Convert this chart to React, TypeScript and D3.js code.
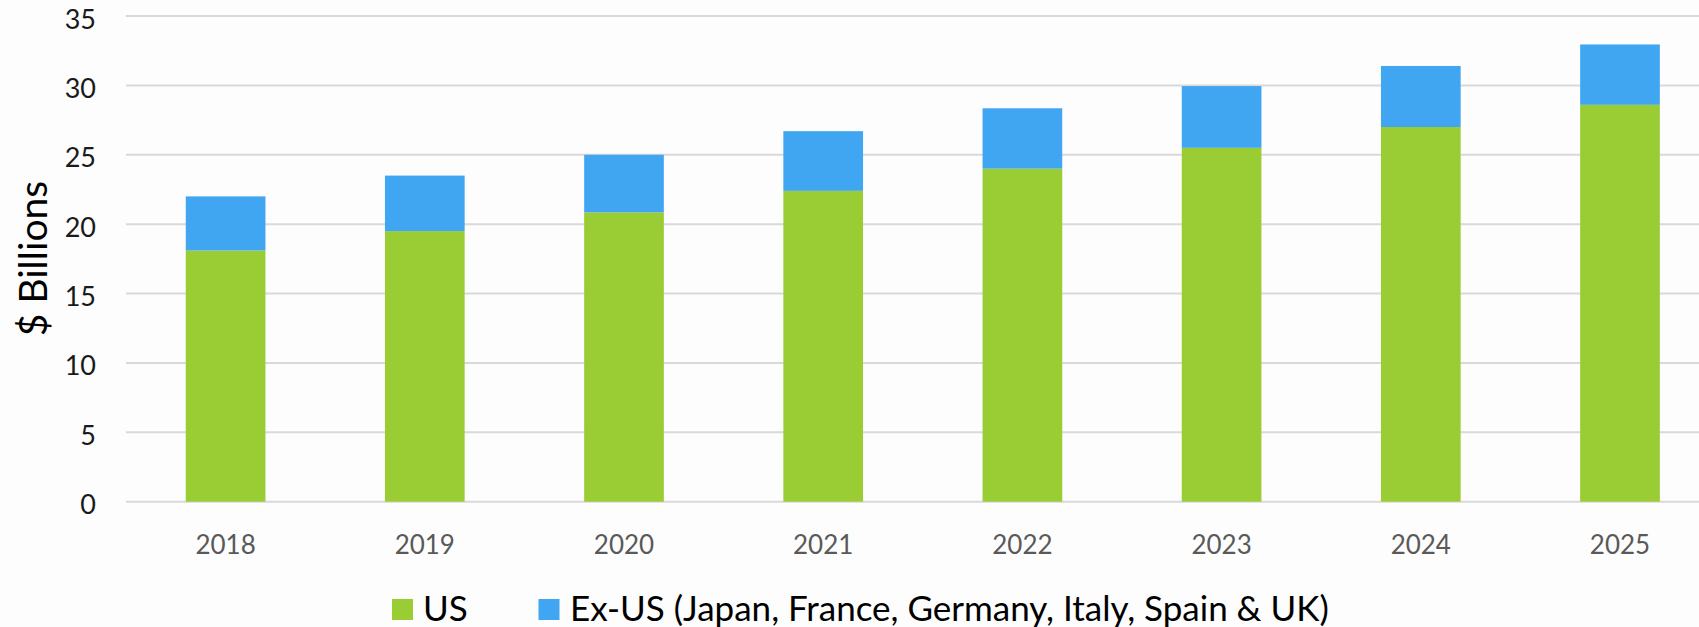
import React from 'react';
import * as d3 from 'd3';

const years = ['2018', '2019', '2020', '2021', '2022', '2023', '2024', '2025'];
const usValues = [18.1, 19.5, 20.85, 22.4, 24.0, 25.5, 27.0, 28.6];
const exUsValues = [3.9, 4.0, 4.15, 4.3, 4.35, 4.45, 4.4, 4.35];
const yTicks = [0, 5, 10, 15, 20, 25, 30, 35];
const seriesNames = ['US', 'Ex-US (Japan, France, Germany, Italy, Spain & UK)'];
const seriesColors = ['#9ACC33', '#40A6F2'];

const W = 1699;
const H = 627;
const FONT = 'Lato, "Open Sans", sans-serif';

export default function App() {
  const rows = years.map((yr, i) => ({ year: yr, us: usValues[i], exus: exUsValues[i] }));
  const stack = d3.stack<any>().keys(['us', 'exus'])(rows);

  const x = d3.scaleBand<string>().domain(years).range([126, 1719.6]).paddingInner(0.6).paddingOuter(0.3);
  const y = d3.scaleLinear().domain([0, 35]).range([501.7, 16]);

  return (
    <svg width={W} height={H} style={{ position: 'absolute', left: 0, top: 0, background: '#fdfdfd' }} fontFamily={FONT}>
      <rect x={0} y={0} width={W} height={H} fill="#fdfdfd" />
      {yTicks.map(t => (
        <g key={t}>
          <line x1={126} x2={W} y1={y(t)} y2={y(t)} stroke="#d9d9d9" strokeWidth={2} />
          <text x={96} y={y(t) + 2} textAnchor="end" dominantBaseline="central" fontSize={27} fill="#1a1a1a">{t}</text>
        </g>
      ))}
      {stack.map((s, si) => (
        <g key={si} fill={seriesColors[si]}>
          {s.map((d, i) => (
            <rect key={i} x={x(years[i])} width={x.bandwidth()} y={y(d[1])} height={y(d[0]) - y(d[1])} />
          ))}
        </g>
      ))}
      {years.map(yr => (
        <text key={yr} x={(x(yr) as number) + x.bandwidth() / 2} y={554} textAnchor="middle" fontSize={26} fill="#595959">{yr}</text>
      ))}
      <text transform="translate(47,258.5) rotate(-90)" textAnchor="middle" fontSize={39} fill="#000">$ Billions</text>
      <g>
        <rect x={392} y={599} width={21} height={21} fill={seriesColors[0]} />
        <text x={423} y={621} fontSize={35} fill="#000">{seriesNames[0]}</text>
        <rect x={538.5} y={599} width={21} height={21} fill={seriesColors[1]} />
        <text x={570} y={621} fontSize={35} fill="#000">{seriesNames[1]}</text>
      </g>
    </svg>
  );
}
